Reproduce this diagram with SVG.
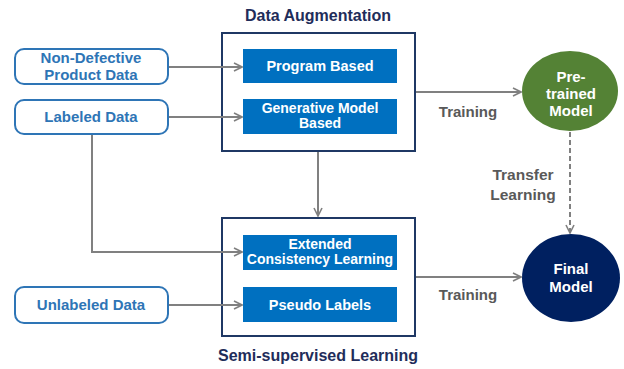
<svg xmlns="http://www.w3.org/2000/svg" width="624" height="369" viewBox="0 0 624 369">
  <defs>
    <marker id="arr" viewBox="0 0 10 10" refX="9" refY="5" markerWidth="10" markerHeight="10" markerUnits="userSpaceOnUse" orient="auto">
      <path d="M1,1 L9,5 L1,9" fill="none" stroke="#808080" stroke-width="1.6"/>
    </marker>
    <style>
      text { font-family: "Liberation Sans", Arial, sans-serif; font-weight: bold; text-anchor: middle; }
      .input rect { fill: #ffffff; stroke: #2E75B6; stroke-width: 2; }
      .input text { fill: #2E75B6; font-size: 15px; }
      .step rect { fill: #0070C0; }
      .step text { fill: #ffffff; font-size: 14.5px; }
      .step text.tight { font-size: 14px; }
      .group rect { fill: #ffffff; stroke: #1F3864; stroke-width: 2; }
      .title { fill: #1F2D5A; font-size: 16px; }
      .edge { fill: none; stroke: #808080; stroke-width: 2; }
      .label { fill: #595959; font-size: 15px; }
      .label.wide { font-size: 15.5px; }
      .model text { fill: #ffffff; font-size: 15px; }
    </style>
  </defs>
  <rect width="624" height="369" fill="#ffffff"/>

  <!-- containers -->
  <g id="data-augmentation" class="group">
    <rect x="222" y="33" width="193" height="118"/>
    <text class="title" x="318" y="21">Data Augmentation</text>
  </g>
  <g id="semi-supervised" class="group">
    <rect x="222" y="218" width="193" height="118"/>
    <text class="title" x="318" y="361">Semi-supervised Learning</text>
  </g>

  <!-- connectors -->
  <g id="connectors">
    <line class="edge" x1="169" y1="67" x2="242" y2="67" marker-end="url(#arr)"/>
    <line class="edge" x1="169" y1="117" x2="242" y2="117" marker-end="url(#arr)"/>
    <polyline class="edge" points="92,135 92,252 242,252" marker-end="url(#arr)"/>
    <line class="edge" x1="169" y1="305" x2="242" y2="305" marker-end="url(#arr)"/>
    <line class="edge" x1="318" y1="152" x2="318" y2="216" marker-end="url(#arr)"/>
    <line class="edge" x1="416" y1="92" x2="521" y2="92" marker-end="url(#arr)"/>
    <line class="edge" x1="416" y1="277" x2="521" y2="277" marker-end="url(#arr)"/>
    <line class="edge" x1="570" y1="132" x2="570" y2="233" stroke-dasharray="5,3" marker-end="url(#arr)"/>
    <text class="label" x="468" y="117">Training</text>
    <text class="label" x="468" y="300">Training</text>
    <text class="label wide" x="523" y="180">Transfer</text>
    <text class="label wide" x="523" y="200">Learning</text>
  </g>

  <!-- inputs -->
  <g id="non-defective" class="input">
    <rect x="15" y="49" width="153" height="35" rx="9"/>
    <text x="91" y="63">Non-Defective</text>
    <text x="91" y="80">Product Data</text>
  </g>
  <g id="labeled" class="input">
    <rect x="15" y="100" width="153" height="34" rx="9"/>
    <text x="91" y="122">Labeled Data</text>
  </g>
  <g id="unlabeled" class="input">
    <rect x="15" y="287" width="153" height="36" rx="9"/>
    <text x="91" y="310">Unlabeled Data</text>
  </g>

  <!-- steps -->
  <g id="program-based" class="step">
    <rect x="243" y="49" width="154" height="34"/>
    <text x="320" y="71">Program Based</text>
  </g>
  <g id="generative-model" class="step">
    <rect x="243" y="99" width="154" height="35"/>
    <text class="tight" x="320" y="112.5">Generative Model</text>
    <text class="tight" x="320" y="128.2">Based</text>
  </g>
  <g id="extended-consistency" class="step">
    <rect x="243" y="235" width="154" height="35"/>
    <text class="tight" x="320" y="248.5">Extended</text>
    <text class="tight" x="320" y="264.2">Consistency Learning</text>
  </g>
  <g id="pseudo-labels" class="step">
    <rect x="243" y="287" width="154" height="35"/>
    <text x="320" y="310">Pseudo Labels</text>
  </g>

  <!-- models -->
  <g id="pretrained" class="model">
    <ellipse cx="570" cy="91" rx="48" ry="40" fill="#548235"/>
    <text x="571" y="82">Pre-</text>
    <text x="571" y="99">trained</text>
    <text x="571" y="116">Model</text>
  </g>
  <g id="final" class="model">
    <ellipse cx="571" cy="278" rx="49" ry="44" fill="#002060"/>
    <text x="571" y="274">Final</text>
    <text x="571" y="292">Model</text>
  </g>
</svg>
